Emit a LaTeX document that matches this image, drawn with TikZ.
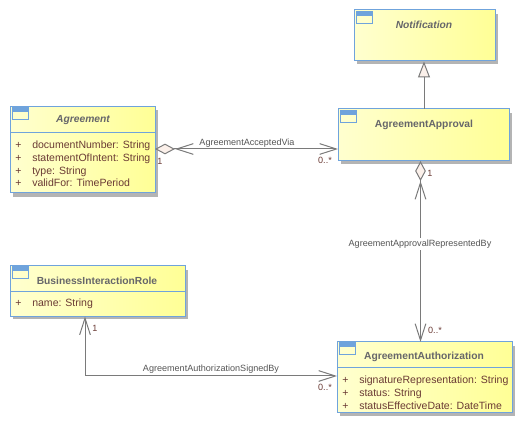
\documentclass[tikz,border=0pt]{standalone}
\usepackage{fontspec}
\setmainfont{Liberation Sans}
\usetikzlibrary{arrows.meta,calc}
\definecolor{boxline}{HTML}{6FA3DC}
\definecolor{boxshadow}{HTML}{B4B4B4}
\definecolor{lineg}{HTML}{7A7A7A}
\definecolor{titlec}{HTML}{66666A}
\definecolor{attrc}{HTML}{6A3A34}
\definecolor{labelc}{HTML}{555555}
\definecolor{diam}{HTML}{FBF0EA}
\definecolor{fillL}{HTML}{FFFFCF}
\definecolor{fillR}{HTML}{FFFF96}
\tikzset{
  umlbox/.style={draw=boxline,line width=0.75pt,left color=fillL,right color=fillR,inner sep=0pt,outer sep=0pt,anchor=north west,minimum width=#1},
  umlh/.style={minimum height=#1},
  title/.style={font=\fontsize{7.7}{9}\selectfont\bfseries,text=titlec,inner sep=0pt},
  ititle/.style={title,font=\fontsize{7.7}{9}\selectfont\bfseries\itshape},
  attr/.style={font=\fontsize{7.9}{9}\selectfont,text=attrc,inner sep=0pt,anchor=base west},
  lab/.style={font=\fontsize{6.8}{8}\selectfont,text=labelc,inner sep=0pt},
  mult/.style={font=\fontsize{6.8}{8}\selectfont,text=attrc,inner sep=0pt},
  conn/.style={draw=lineg,line width=0.75pt},
  assoc/.style={conn,{Straight Barb[length=12.5pt,width=8pt,color=lineg,line width=0.75pt]}-{Straight Barb[length=12.5pt,width=8pt,color=lineg,line width=0.75pt]}},
  aggr/.style={conn,{Diamond[length=15pt,width=8pt,fill=diam,color=lineg,line width=0.75pt]Straight Barb[length=12.5pt,width=8pt,color=lineg,line width=0.75pt]}-{Straight Barb[length=12.5pt,width=8pt,color=lineg,line width=0.75pt]}},
  gen/.style={conn,-{Triangle[length=12pt,width=9pt,fill=diam,color=lineg,line width=0.75pt]}},
}
\newcommand{\umlicon}[2]{%
  \draw[boxline,line width=0.75pt] (#1,#2) rectangle ++(16,12);
  \fill[boxline] (#1,#2) rectangle ++(16,4);}
\begin{document}
\begin{tikzpicture}[x=0.75pt,y=-0.75pt]
\useasboundingbox (0,0) rectangle (522,424);
% shadows
\fill[boxshadow] (13,110) rectangle (158,197);
\fill[boxshadow] (357,14) rectangle (498,64);
\fill[boxshadow] (341,113) rectangle (512,164);
\fill[boxshadow] (13,270) rectangle (188,319);
\fill[boxshadow] (340,346) rectangle (515,416);
% boxes
\node[umlbox=108.75pt,umlh=64.5pt] (agreement) at (10,107) {};
\node[umlbox=105.75pt,umlh=38.25pt] (notification) at (354,10) {};
\node[umlbox=128.25pt,umlh=39pt] (approval) at (338,109) {};
\node[umlbox=131.25pt,umlh=38.25pt] (role) at (10,265.5) {};
\node[umlbox=131.25pt,umlh=53.25pt] (authorization) at (337,342) {};
% dividers
\draw[boxline,line width=0.75pt] (agreement.west |- 0,133) -- (agreement.east |- 0,133);
\draw[boxline,line width=0.75pt] (role.west |- 0,292) -- (role.east |- 0,292);
\draw[boxline,line width=0.75pt] (authorization.west |- 0,368) -- (authorization.east |- 0,368);
% icons
\umlicon{12}{108}
\umlicon{356}{12}
\umlicon{340}{111}
\umlicon{12}{267}
\umlicon{339}{343}
% titles
\node[ititle] (t1) at (83,120.5) {Agreement};
\node[ititle] (t2) at (424,24.5) {Notification};
\node[title] (t3) at (424,124.5) {AgreementApproval};
\node[title] (t4) at (97,281) {BusinessInteractionRole};
\node[title] (t5) at (424,356.5) {AgreementAuthorization};
% attributes
\foreach \n/\px/\tx/\y/\s in {a1/15/32/148.5/documentNumber: String,a2/15/32/161.5/statementOfIntent: String,a3/15/32/174.5/type: String,a4/15/32/187/validFor: TimePeriod,r1/15/32/306.5/name: String,u1/342/359/383.5/signatureRepresentation: String,u2/342/359/396.5/status: String,u3/342/359/409.5/statusEffectiveDate: DateTime}{
  \node[attr] (p\n) at (\px,\y) {+};
  \node[attr] (\n) at (\tx,\y) {\s};
}
% connectors
\coordinate (ag1) at (agreement.east |- 0,149);
\coordinate (ap1) at (approval.west |- 0,149);
\draw[aggr] (ag1) -- (ap1);
\coordinate (ap2) at (420.5,161);
\coordinate (au2) at (420.5,342);
\draw[aggr] (ap2) -- (au2);
\coordinate (ap3) at (424,109);
\coordinate (no3) at (424,61.5);
\draw[gen] (ap3) -- (no3);
\coordinate (au4) at (authorization.west |- 0,376);
\coordinate (ro4) at (85,316.5);
\draw[assoc] (ro4) -- (85,376) -- (au4);
% labels
\node[lab] (l1) at (247,143) {AgreementAcceptedVia};
\node[lab,fill=white,inner ysep=1pt] (l2) at (420,244) {AgreementApprovalRepresentedBy};
\node[lab] (l3) at (211,369.5) {AgreementAuthorizationSignedBy};
\node[mult] (m1) at (160,161) {1};
\node[mult] (m2) at (325,160.5) {0..*};
\node[mult] (m3) at (430,173) {1};
\node[mult] (m4) at (435,330) {0..*};
\node[mult] (m5) at (95,328) {1};
\node[mult] (m6) at (325,387) {0..*};
\end{tikzpicture}
\end{document}
